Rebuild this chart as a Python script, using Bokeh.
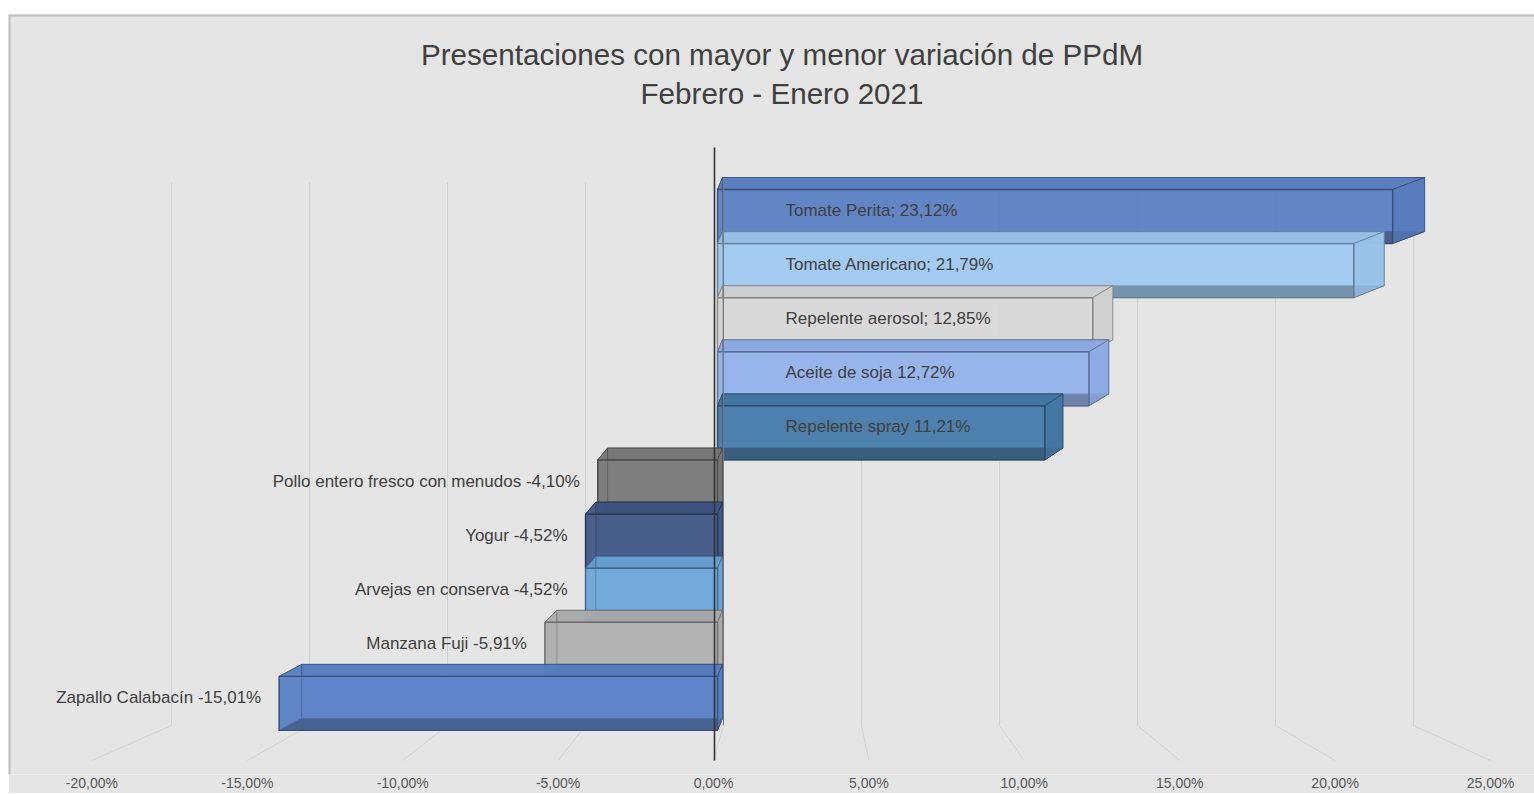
from bokeh.plotting import figure
from bokeh.models import Range1d, LinearAxis, FixedTicker, CustomJSTickFormatter, Span, Spacer
from bokeh.layouts import column, row
from bokeh.embed import file_html
from bokeh.resources import INLINE
from bokeh.core.properties import value

# ---------------- data ----------------
categories = ["Tomate Perita", "Tomate Americano", "Repelente aerosol", "Aceite de soja",
              "Repelente spray", "Pollo entero fresco con menudos", "Yogur",
              "Arvejas en conserva", "Manzana Fuji", "Zapallo Calabacín"]
values = [23.12, 21.79, 12.85, 12.72, 11.21, -4.10, -4.52, -4.52, -5.91, -15.01]
label_separators = ["; ", "; ", "; ", " ", " ", " ", " ", " ", " ", " "]
bar_colors = ["#5a7fc3", "#9fcaf2", "#d8d8d8", "#92b1ec", "#457aa8",
              "#787878", "#3f5686", "#6ca6dc", "#b0b0b0", "#5881c7"]
tick_values = [-20, -15, -10, -5, 0, 5, 10, 15, 20, 25]
title_lines = ["Presentaciones con mayor y menor variación de PPdM", "Febrero - Enero 2021"]

# ---------------- layout constants (pixels) ----------------
FW, FH = 1526, 760          # frame size
PX = 29.2                   # px per % for the bar plane
ZERO_PX = 709               # zero of bar plane, frame px
PY = 54.1                   # px per category
C0 = 196                    # frame y (from top) of first category centre
BACK_PX, BACK_ZERO = 27.6, 715   # back wall scale
FRONT_PX, FRONT_ZERO = 31.08, 705  # floor front edge scale


def ux(frame_px):
    return (frame_px - ZERO_PX) / PX


def uy(frame_py):
    return (frame_py - C0) / PY


def back_x(v):
    return ux(BACK_ZERO + BACK_PX * v)


def front_x(v):
    return ux(FRONT_ZERO + FRONT_PX * v)


def shade(hexc, f):
    h = hexc.lstrip("#")
    r, g, b = (int(h[k:k + 2], 16) for k in (0, 2, 4))
    return "#%02x%02x%02x" % (int(r * f), int(g * f), int(b * f))


p = figure(frame_width=FW, frame_height=FH,
           x_range=Range1d(ux(0), ux(FW)), y_range=Range1d(uy(FH), uy(0)),
           output_backend="svg", toolbar_location=None,
           x_axis_type=None, y_axis_type=None,
           min_border_left=0, min_border_right=0, min_border_top=0, min_border_bottom=0)
p.background_fill_color = "#e5e5e5"
p.border_fill_color = "#e5e5e5"
p.outline_line_color = None

# border (left / top)
p.add_layout(Span(location=ux(0), dimension="height", line_color="#bfbfbf", line_width=4))
p.add_layout(Span(location=uy(0), dimension="width", line_color="#bfbfbf", line_width=4))

# ---------------- 3D grid (back wall + floor) ----------------
g_top, g_bot, g_floor = uy(168), uy(711), uy(746)
p.segment(x0=[back_x(t) for t in tick_values], y0=[g_top] * len(tick_values),
          x1=[back_x(t) for t in tick_values], y1=[g_bot] * len(tick_values),
          line_color="#d2d2d2", line_width=1)
p.segment(x0=[back_x(t) for t in tick_values], y0=[g_bot] * len(tick_values),
          x1=[front_x(t) for t in tick_values], y1=[g_floor] * len(tick_values),
          line_color="#d2d2d2", line_width=1)

# ---------------- bars ----------------
H = 33 / PY      # half overall height
DY = 12 / PY     # depth (vertical)


def depth(v):
    return (5 + 0.04 * abs(v) * PX) / PX


for i, (v, col) in enumerate(zip(values, bar_colors)):
    c = i
    x0, x1 = 0.0, v
    o0, o1 = depth(0), depth(v)
    lo, hi = min(x0, x1), max(x0, x1)
    edge = shade(col, 0.62)
    dark = shade(col, 0.45)
    ft, fb = c - H + DY, c + H          # front face top / bottom
    bt, bb = c - H, c + H - DY          # back face top / bottom
    # bottom face
    p.patches(xs=[[x0, x1, x1 + o1, x0 + o0]], ys=[[fb, fb, bb, bb]],
              fill_color=dark, fill_alpha=0.9, line_color=edge, line_width=1)
    # back face
    p.quad(left=[min(x0 + o0, x1 + o1)], right=[max(x0 + o0, x1 + o1)], top=[bt], bottom=[bb],
           fill_color=col, fill_alpha=0.9, line_color=edge, line_alpha=0.5, line_width=1)
    # top face
    p.patches(xs=[[x0, x1, x1 + o1, x0 + o0]], ys=[[ft, ft, bt, bt]],
              fill_color=shade(col, 0.94), fill_alpha=0.6, line_color=edge, line_alpha=0.8, line_width=1)
    # end faces (zero end and value end)
    p.patches(xs=[[x0, x0 + o0, x0 + o0, x0], [x1, x1 + o1, x1 + o1, x1]],
              ys=[[ft, bt, bb, fb], [ft, bt, bb, fb]],
              fill_color=shade(col, 0.96), fill_alpha=0.85, line_color=edge, line_alpha=0.7, line_width=1)
    # front face (glassy)
    p.quad(left=[lo], right=[hi], top=[ft], bottom=[fb],
           fill_color=col, fill_alpha=0.45, line_color=edge, line_width=1.4)

# axis lines (front zero and back zero)
p.segment(x0=[back_x(0)], y0=[g_top], x1=[back_x(0)], y1=[g_bot], line_color="#7a7a7a", line_width=1)
p.segment(x0=[front_x(0) + 1 / PX], y0=[uy(133)], x1=[front_x(0) + 1 / PX], y1=[g_floor],
          line_color="#333333", line_width=1.6)

# ---------------- labels ----------------
def fmt(v):
    return ("%.2f" % v).replace(".", ",") + "%"


labels = [cat + sep + fmt(v) for cat, sep, v in zip(categories, label_separators, values)]
pos_i = [i for i, v in enumerate(values) if v >= 0]
neg_i = [i for i, v in enumerate(values) if v < 0]
p.text(x=[ux(ZERO_PX + 68)] * len(pos_i), y=pos_i, text=[labels[i] for i in pos_i],
       text_align="left", text_baseline="middle", text_font=value("Liberation Sans"),
       text_font_size="17px", text_color="#404040")
p.text(x=[values[i] - 18 / PX for i in neg_i], y=neg_i, text=[labels[i] for i in neg_i],
       text_align="right", text_baseline="middle", text_font=value("Liberation Sans"),
       text_font_size="17px", text_color="#404040")

# title
p.text(x=[ux(773.5)] * 2, y=[uy(40), uy(79)], text=title_lines,
       text_align="center", text_baseline="middle", text_font=value("Liberation Sans"),
       text_font_size="29.6px", text_color="#404040")

# ---------------- bottom axis (floor front edge) ----------------
p.extra_x_ranges = {"front": Range1d(-FRONT_ZERO / FRONT_PX, (FW - FRONT_ZERO) / FRONT_PX)}
ax = LinearAxis(x_range_name="front", ticker=FixedTicker(ticks=tick_values),
                formatter=CustomJSTickFormatter(code="return tick.toFixed(2).replace('.', ',') + '%';"))
ax.axis_line_color = None
ax.major_tick_line_color = None
ax.minor_tick_line_color = None
ax.major_tick_out = 0
ax.major_tick_in = 0
ax.major_label_standoff = 0
ax.major_label_text_font = "Liberation Sans"
ax.major_label_text_font_size = "14px"
ax.major_label_text_color = "#595959"
p.add_layout(ax, "below")

layout = column(Spacer(height=14, width=10), row(Spacer(width=8, height=10), p))
open("out.html", "w").write(file_html(layout, INLINE))
